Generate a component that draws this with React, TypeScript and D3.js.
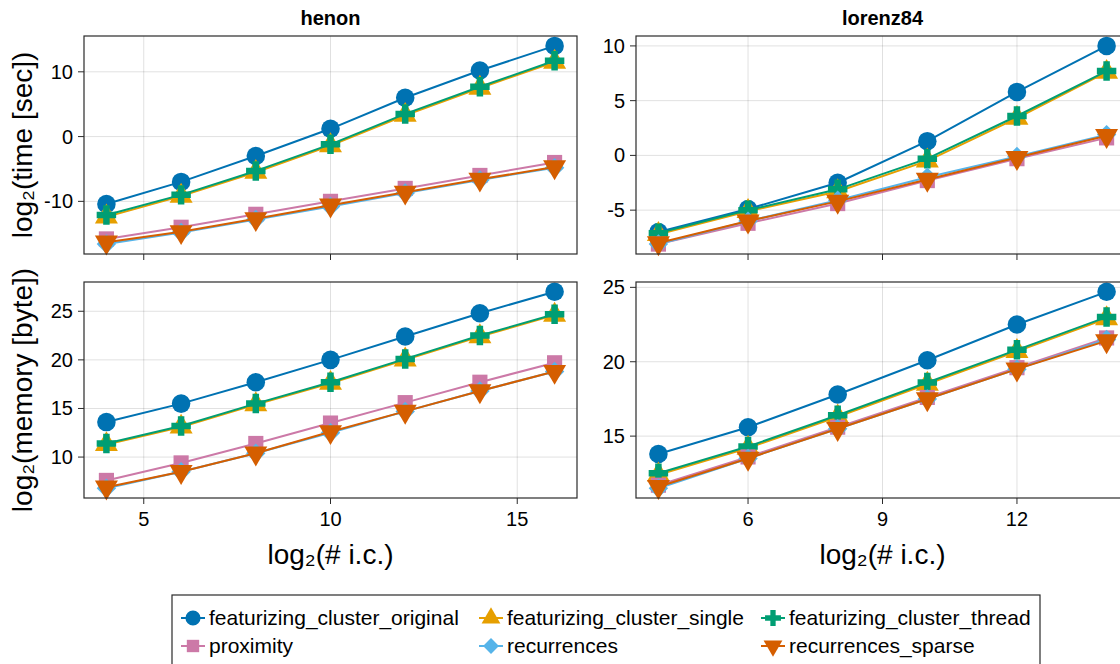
import * as d3 from 'd3'

const W = 1120
const H = 664
const FONT = '"Liberation Sans", Arial, sans-serif'

const seriesNames = [
  'featurizing_cluster_original',
  'featurizing_cluster_single',
  'featurizing_cluster_thread',
  'proximity',
  'recurrences',
  'recurrences_sparse',
]
const colors = ['#0072B2', '#E69F00', '#009E73', '#CC79A7', '#56B4E9', '#D55E00']
const markers = ['circle', 'utriangle', 'cross', 'rect', 'diamond', 'dtriangle']

const xHenon = [4, 6, 8, 10, 12, 14, 16]
const xLorenz = [4, 6, 8, 10, 12, 14]

// log2(time [sec])
const henonTime = [
  [-10.4, -7.0, -3.0, 1.2, 6.0, 10.2, 14.0],
  [-12.4, -9.2, -5.5, -1.4, 3.3, 7.5, 11.5],
  [-12.1, -9.0, -5.3, -1.2, 3.5, 7.7, 11.7],
  [-15.8, -14.0, -12.0, -10.0, -8.0, -6.0, -4.0],
  [-16.6, -14.8, -12.8, -10.8, -8.7, -6.7, -4.8],
  [-16.3, -14.7, -12.7, -10.6, -8.6, -6.6, -4.7],
]
const lorenzTime = [
  [-7.0, -4.9, -2.5, 1.3, 5.8, 10.0],
  [-7.2, -5.1, -3.3, -0.5, 3.4, 7.6],
  [-7.1, -5.0, -3.1, -0.3, 3.6, 7.7],
  [-8.1, -6.2, -4.4, -2.3, -0.3, 1.6],
  [-8.1, -6.0, -4.1, -2.0, -0.1, 1.9],
  [-8.0, -6.0, -4.2, -2.2, -0.2, 1.8],
]
// log2(memory [byte])
const henonMem = [
  [13.6, 15.5, 17.7, 20.0, 22.4, 24.8, 27.0],
  [11.3, 13.1, 15.4, 17.6, 20.0, 22.4, 24.6],
  [11.4, 13.2, 15.5, 17.7, 20.1, 22.5, 24.7],
  [7.6, 9.4, 11.4, 13.5, 15.6, 17.7, 19.7],
  [6.8, 8.5, 10.4, 12.5, 14.7, 16.8, 18.8],
  [6.9, 8.5, 10.4, 12.6, 14.7, 16.8, 18.8],
]
const lorenzMem = [
  [13.8, 15.6, 17.8, 20.1, 22.5, 24.7],
  [12.4, 14.2, 16.3, 18.5, 20.7, 22.9],
  [12.5, 14.3, 16.4, 18.6, 20.8, 23.0],
  [11.7, 13.6, 15.6, 17.6, 19.6, 21.6],
  [11.5, 13.5, 15.5, 17.5, 19.5, 21.5],
  [11.6, 13.5, 15.5, 17.5, 19.5, 21.4],
]

const xTicksHenon = [5, 10, 15]
const xTicksLorenz = [6, 9, 12]
const yTicksHenonTime = [-10, 0, 10]
const yTicksLorenzTime = [-5, 0, 5, 10]
const yTicksHenonMem = [10, 15, 20, 25]
const yTicksLorenzMem = [15, 20, 25]

const padded = (vals: number[]): [number, number] => {
  const [lo, hi] = d3.extent(vals) as [number, number]
  const m = (hi - lo) * 0.05
  return [lo - m, hi + m]
}

function markerPath(kind: string, s: number) {
  const sym = d3.symbol()
  if (kind === 'circle') return sym.type(d3.symbolCircle).size(s * 1.0)()
  if (kind === 'utriangle' || kind === 'dtriangle') return sym.type(d3.symbolTriangle).size(s * 0.85)()
  if (kind === 'cross') return sym.type(d3.symbolCross).size(s * 0.78)()
  if (kind === 'rect') return sym.type(d3.symbolSquare).size(s * 0.85)()
  return sym.type(d3.symbolSquare).size(s * 0.7)()
}

function markerRot(kind: string) {
  if (kind === 'dtriangle') return 180
  if (kind === 'diamond') return 45
  return 0
}

type PanelProps = {
  x0: number
  x1: number
  y0: number
  y1: number
  xs: number[]
  data: number[][]
  xTicks: number[]
  yTicks: number[]
  showX: boolean
}

function Panel({ x0, x1, y0, y1, xs, data, xTicks, yTicks, showX }: PanelProps) {
  const xScale = d3.scaleLinear().domain(padded(xs)).range([x0, x1])
  const yScale = d3.scaleLinear().domain(padded(data.flat())).range([y1, y0])
  const line = d3
    .line<number>()
    .x((_, i) => xScale(xs[i]))
    .y((d) => yScale(d))
  return (
    <g>
      {xTicks.map((t) => (
        <line key={'gx' + t} x1={xScale(t)} x2={xScale(t)} y1={y0} y2={y1} stroke="#000" strokeOpacity={0.12} />
      ))}
      {yTicks.map((t) => (
        <line key={'gy' + t} x1={x0} x2={x1} y1={yScale(t)} y2={yScale(t)} stroke="#000" strokeOpacity={0.12} />
      ))}
      {data.map((vals, si) => (
        <g key={si}>
          <path d={line(vals) ?? ''} fill="none" stroke={colors[si]} strokeWidth={2} />
          {vals.map((v, i) => (
            <path
              key={i}
              d={markerPath(markers[si], 270) ?? ''}
              transform={`translate(${xScale(xs[i])},${yScale(v)}) rotate(${markerRot(markers[si])})`}
              fill={colors[si]}
            />
          ))}
        </g>
      ))}
      <rect x={x0} y={y0} width={x1 - x0} height={y1 - y0} fill="none" stroke="#2a2a2a" strokeWidth={1.2} />
      {yTicks.map((t) => (
        <g key={'ty' + t}>
          <line x1={x0 - 6} x2={x0} y1={yScale(t)} y2={yScale(t)} stroke="#2a2a2a" />
          <text x={x0 - 11} y={yScale(t)} dy="0.35em" textAnchor="end" fontSize={20} fontFamily={FONT}>
            {t}
          </text>
        </g>
      ))}
      {xTicks.map((t) => (
        <g key={'tx' + t}>
          <line x1={xScale(t)} x2={xScale(t)} y1={y1} y2={y1 + 6} stroke="#2a2a2a" />
          {showX && (
            <text x={xScale(t)} y={y1 + 28} textAnchor="middle" fontSize={20} fontFamily={FONT}>
              {t}
            </text>
          )}
        </g>
      ))}
    </g>
  )
}

export default function App() {
  const L = { x0: 84, x1: 577 }
  const R = { x0: 636, x1: 1129 }
  const top = { y0: 36, y1: 254 }
  const bot = { y0: 282, y1: 498 }
  const legendCols = [193, 491, 773]
  const legendRows = [618, 646]
  return (
    <svg width={W} height={H} style={{ position: 'absolute', left: 0, top: 0, background: '#fff' }}>
      <rect width={W} height={H} fill="#fff" />
      <text x={(L.x0 + L.x1) / 2} y={25} textAnchor="middle" fontSize={20} fontWeight="bold" fontFamily={FONT}>
        henon
      </text>
      <text x={(R.x0 + R.x1) / 2} y={25} textAnchor="middle" fontSize={20} fontWeight="bold" fontFamily={FONT}>
        lorenz84
      </text>
      <Panel {...L} {...top} xs={xHenon} data={henonTime} xTicks={xTicksHenon} yTicks={yTicksHenonTime} showX={false} />
      <Panel {...R} {...top} xs={xLorenz} data={lorenzTime} xTicks={xTicksLorenz} yTicks={yTicksLorenzTime} showX={false} />
      <Panel {...L} {...bot} xs={xHenon} data={henonMem} xTicks={xTicksHenon} yTicks={yTicksHenonMem} showX={true} />
      <Panel {...R} {...bot} xs={xLorenz} data={lorenzMem} xTicks={xTicksLorenz} yTicks={yTicksLorenzMem} showX={true} />
      <text transform={`translate(32,${(top.y0 + top.y1) / 2}) rotate(-90)`} textAnchor="middle" fontSize={28} fontFamily={FONT}>
        log₂(time [sec])
      </text>
      <text transform={`translate(32,${(bot.y0 + bot.y1) / 2}) rotate(-90)`} textAnchor="middle" fontSize={28} fontFamily={FONT}>
        log₂(memory [byte])
      </text>
      <text x={(L.x0 + L.x1) / 2} y={564} textAnchor="middle" fontSize={28} fontFamily={FONT}>
        log₂(# i.c.)
      </text>
      <text x={(R.x0 + R.x1) / 2} y={564} textAnchor="middle" fontSize={28} fontFamily={FONT}>
        log₂(# i.c.)
      </text>
      <rect x={172} y={595} width={868} height={90} fill="none" stroke="#2a2a2a" strokeWidth={1.2} />
      {seriesNames.map((name, i) => {
        const cx = legendCols[i % 3]
        const cy = legendRows[Math.floor(i / 3)]
        return (
          <g key={name}>
            <line x1={cx - 12} x2={cx + 12} y1={cy} y2={cy} stroke={colors[i]} strokeWidth={2} />
            <path
              d={markerPath(markers[i], 180) ?? ''}
              transform={`translate(${cx},${cy}) rotate(${markerRot(markers[i])})`}
              fill={colors[i]}
            />
            <text x={cx + 16} y={cy} dy="0.35em" fontSize={21} fontFamily={FONT}>
              {name}
            </text>
          </g>
        )
      })}
    </svg>
  )
}
